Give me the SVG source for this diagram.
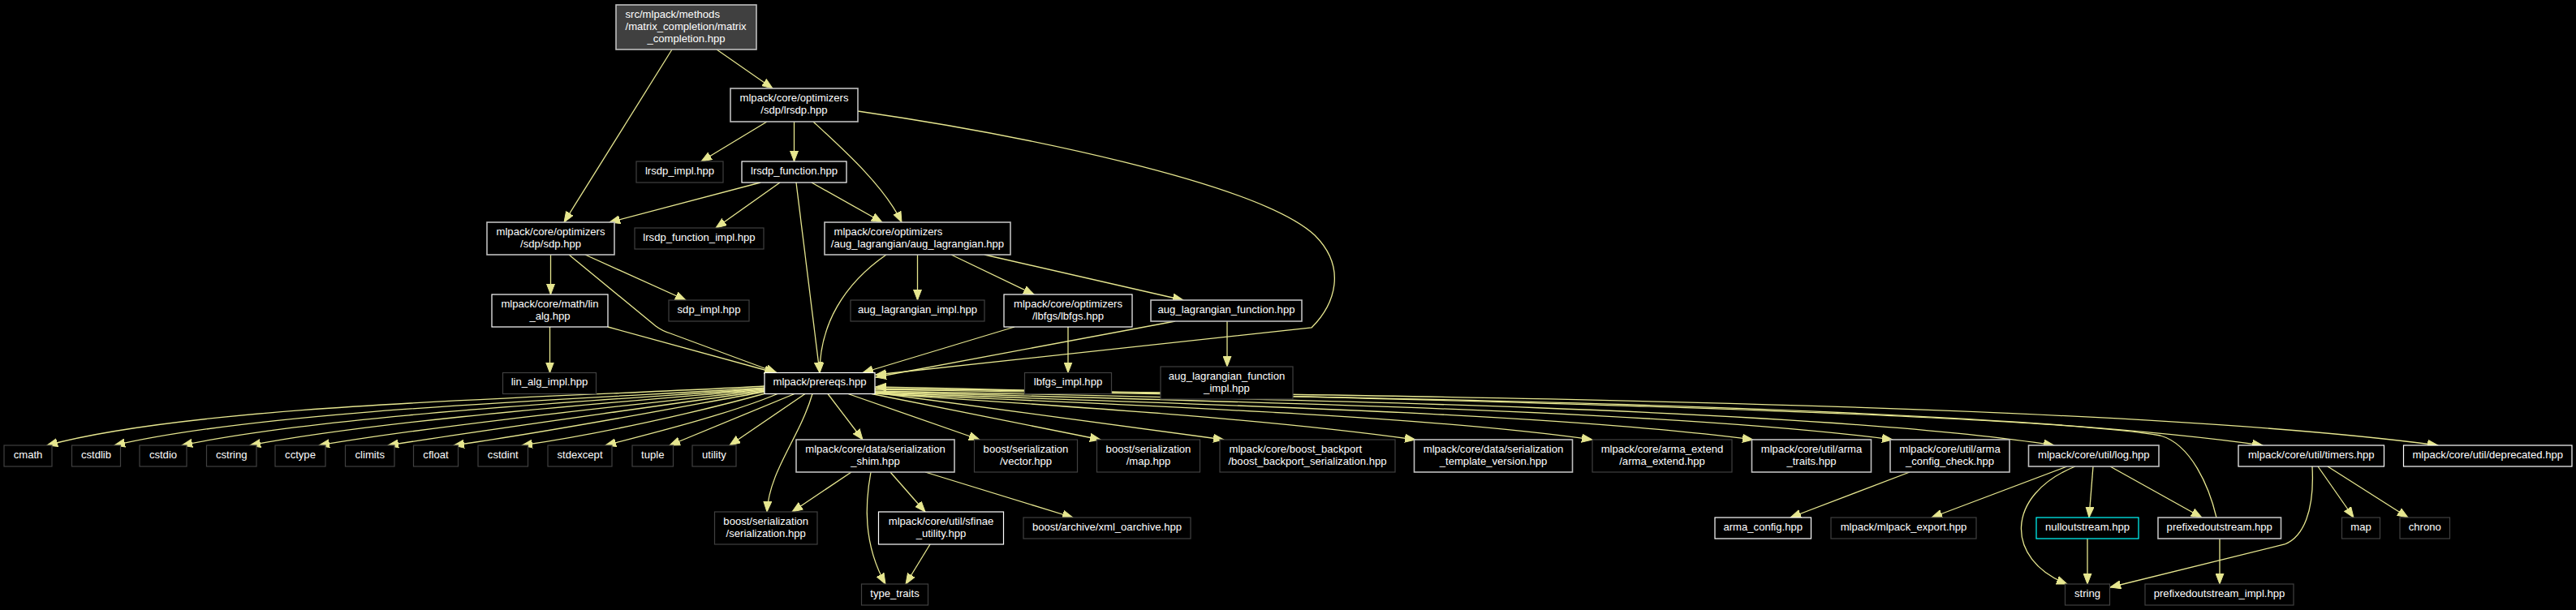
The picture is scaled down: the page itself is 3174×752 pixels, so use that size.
<svg xmlns="http://www.w3.org/2000/svg" width="3174" height="752" viewBox="0 0 3174 752">
<style>
.bg{fill:#000}
.n rect{fill:#000;stroke-width:1.2}
.n .w{stroke:#ffffff}
.n .g{stroke:#bfbfbf;stroke-width:1.6}
.n .d{stroke:#404040}
.n .c{stroke:#00ffff}
.n .r{fill:#404040;stroke:#bfbfbf;stroke-width:1.6}
text{fill:#fff;font-family:"Liberation Sans",Arial,Helvetica,sans-serif;font-size:13.1px;text-anchor:middle}
text.l{text-anchor:start}
#edges path{fill:none;stroke:#e6e68f;stroke-width:1.3;marker-end:url(#a)}
</style>
<defs>
<marker id="a" markerUnits="userSpaceOnUse" markerWidth="14" markerHeight="11" refX="13" refY="5" orient="auto" viewBox="0 0 14 10">
<path d="M0,0 L13,5 L0,10 Z" fill="#e6e68f" stroke="#e6e68f" stroke-width="1"/>
</marker>
</defs>
<rect class="bg" x="0" y="0" width="3174" height="752"/>

<g id="edges">
<path d="M883,61 L952,109"/>
<path d="M828,61 L695,274"/>
<path d="M945,150 L864,199"/>
<path d="M978.5,150 L978.5,199"/>
<path d="M1002,150 C1040,185 1090,230 1111,274"/>
<path d="M1057,137 C1250,165 1550,225 1620,290 C1660,330 1645,375 1616,404 L1079,462"/>
<path d="M937,225 L751,274"/>
<path d="M961,225 L882,281"/>
<path d="M981,225 L1010,459.5"/>
<path d="M1000,225 L1087,274"/>
<path d="M678.5,314 L678.5,363"/>
<path d="M721,314 L845,370"/>
<path d="M701,314 L808,402 Q816,408 826,411 L957,459.5"/>
<path d="M677.5,403 L677.5,459.5"/>
<path d="M749,403 L955,459.5"/>
<path d="M1092,314 C1040,350 1010,400 1010,459.5"/>
<path d="M1130.5,314 L1130.5,370"/>
<path d="M1172,314 L1274,363"/>
<path d="M1213,314 L1458,370"/>
<path d="M1250,403 L1063,459.5"/>
<path d="M1316,403 L1316,459.5"/>
<path d="M1448,396 L1079,465"/>
<path d="M1512,396 L1512,452"/>
<path d="M942,476 C700,490 250,497 58,549"/>
<path d="M942,478 C720,492 330,505 141,549"/>
<path d="M942,479 C740,494 400,512 224,549"/>
<path d="M942,480 C760,496 470,518 308,549"/>
<path d="M942,481 C780,499 540,524 393,549"/>
<path d="M942,482 C800,502 610,528 478,549"/>
<path d="M942,483 C820,505 680,532 559,549"/>
<path d="M943,485 C860,508 740,535 643,549"/>
<path d="M958,485.5 C900,510 800,535 746,549"/>
<path d="M979,485.5 L825,549"/>
<path d="M992,485.5 L899,549"/>
<path d="M1001,485.5 C985,540 948,580 945,631"/>
<path d="M1020,485.5 L1063,542"/>
<path d="M1045,485.5 L1207,542"/>
<path d="M1074,485.5 L1356,542"/>
<path d="M1078,484 L1508,542"/>
<path d="M1078,485 C1300,500 1550,515 1744,542"/>
<path d="M1078,485 C1400,500 1750,512 1962,542"/>
<path d="M1078,484 C1450,498 1900,508 2160,542"/>
<path d="M1078,483 C1500,495 2050,505 2332,542"/>
<path d="M1078,482 C1600,492 2250,505 2531,549"/>
<path d="M1078,480 C1700,490 2450,500 2788,549"/>
<path d="M1078,479 C1700,488 2600,495 3004,549"/>
<path d="M2731,638 C2722,600 2700,548 2662,537 C2500,508 1600,488 1079,477"/>
<path d="M1049,582 L976,631"/>
<path d="M1073,582 C1066,620 1063,670 1091,720"/>
<path d="M1097,582 L1140,631"/>
<path d="M1140,582 L1322,638"/>
<path d="M1146,671 L1116,720"/>
<path d="M2353,582 L2206,638"/>
<path d="M2547,575 L2380,638"/>
<path d="M2557,575 C2470,610 2470,690 2547,720"/>
<path d="M2579,575 L2574,638"/>
<path d="M2600,575 L2713,638"/>
<path d="M2572,664 L2572,720"/>
<path d="M2735,664 L2735,720"/>
<path d="M2849,575 C2852,630 2838,662 2815,671 L2600,724"/>
<path d="M2856,575 L2900,638"/>
<path d="M2868,575 L2967,638"/>
</g>

<g id="node-root" class="n"><rect class="r" x="759" y="6" width="173" height="55"/><text class="l" x="770.5" y="21.8">src/mlpack/methods</text><text class="l" x="770.5" y="36.8">/matrix_completion/matrix</text><text x="845.5" y="51.8">_completion.hpp</text></g>
<g id="node-lrsdp" class="n"><rect class="g" x="900" y="109" width="157" height="41"/><text x="978.5" y="125.4">mlpack/core/optimizers</text><text x="978.5" y="140.4">/sdp/lrsdp.hpp</text></g>
<g id="node-lrsdp-impl" class="n"><rect class="d" x="784" y="199" width="107" height="26"/><text x="837.5" y="214.8">lrsdp_impl.hpp</text></g>
<g id="node-lrsdp-function" class="n"><rect class="w" x="914" y="199" width="129" height="26"/><text x="978.5" y="214.8">lrsdp_function.hpp</text></g>
<g id="node-sdp" class="n"><rect class="g" x="600" y="274" width="157" height="40"/><text x="678.5" y="289.9">mlpack/core/optimizers</text><text x="678.5" y="304.9">/sdp/sdp.hpp</text></g>
<g id="node-lrsdp-function-impl" class="n"><rect class="d" x="782" y="281" width="159" height="26"/><text x="861.5" y="296.8">lrsdp_function_impl.hpp</text></g>
<g id="node-aug-lagrangian" class="n"><rect class="g" x="1016" y="274" width="229" height="40"/><text class="l" x="1027.5" y="289.9">mlpack/core/optimizers</text><text x="1130.5" y="304.9">/aug_lagrangian/aug_lagrangian.hpp</text></g>
<g id="node-lin-alg" class="n"><rect class="w" x="606" y="363" width="143" height="40"/><text x="677.5" y="378.9">mlpack/core/math/lin</text><text x="677.5" y="393.9">_alg.hpp</text></g>
<g id="node-sdp-impl" class="n"><rect class="d" x="824" y="370" width="99" height="26"/><text x="873.5" y="385.8">sdp_impl.hpp</text></g>
<g id="node-aug-lagrangian-impl" class="n"><rect class="d" x="1048" y="370" width="165" height="26"/><text x="1130.5" y="385.8">aug_lagrangian_impl.hpp</text></g>
<g id="node-lbfgs" class="n"><rect class="w" x="1237" y="363" width="158" height="40"/><text x="1316" y="378.9">mlpack/core/optimizers</text><text x="1316" y="393.9">/lbfgs/lbfgs.hpp</text></g>
<g id="node-aug-lagrangian-function" class="n"><rect class="g" x="1418" y="370" width="186" height="26"/><text x="1511" y="385.8">aug_lagrangian_function.hpp</text></g>
<g id="node-lin-alg-impl" class="n"><rect class="d" x="619.5" y="459.5" width="115" height="26"/><text x="677" y="475.3">lin_alg_impl.hpp</text></g>
<g id="node-prereqs" class="n"><rect class="w" x="942" y="459.5" width="136" height="26"/><text x="1010" y="475.3">mlpack/prereqs.hpp</text></g>
<g id="node-lbfgs-impl" class="n"><rect class="d" x="1262.5" y="459.5" width="107" height="26"/><text x="1316" y="475.3">lbfgs_impl.hpp</text></g>
<g id="node-aug-lagrangian-function-impl" class="n"><rect class="d" x="1430" y="452" width="163" height="40"/><text x="1511.5" y="467.9">aug_lagrangian_function</text><text x="1511.5" y="482.9">_impl.hpp</text></g>

<g id="node-cmath" class="n"><rect class="d" x="5" y="549" width="59" height="26"/><text x="34.5" y="564.8">cmath</text></g>
<g id="node-cstdlib" class="n"><rect class="d" x="88.5" y="549" width="60" height="26"/><text x="118.5" y="564.8">cstdlib</text></g>
<g id="node-cstdio" class="n"><rect class="d" x="172" y="549" width="58" height="26"/><text x="201" y="564.8">cstdio</text></g>
<g id="node-cstring" class="n"><rect class="d" x="254.5" y="549" width="61.5" height="26"/><text x="285.25" y="564.8">cstring</text></g>
<g id="node-cctype" class="n"><rect class="d" x="339" y="549" width="62" height="26"/><text x="370" y="564.8">cctype</text></g>
<g id="node-climits" class="n"><rect class="d" x="425.5" y="549" width="60.5" height="26"/><text x="455.75" y="564.8">climits</text></g>
<g id="node-cfloat" class="n"><rect class="d" x="509.5" y="549" width="55" height="26"/><text x="537" y="564.8">cfloat</text></g>
<g id="node-cstdint" class="n"><rect class="d" x="589" y="549" width="61.5" height="26"/><text x="619.75" y="564.8">cstdint</text></g>
<g id="node-stdexcept" class="n"><rect class="d" x="675" y="549" width="79" height="26"/><text x="714.5" y="564.8">stdexcept</text></g>
<g id="node-tuple" class="n"><rect class="d" x="779" y="549" width="50.5" height="26"/><text x="804.25" y="564.8">tuple</text></g>
<g id="node-utility" class="n"><rect class="d" x="853" y="549" width="54" height="26"/><text x="880" y="564.8">utility</text></g>
<g id="node-serialization-shim" class="n"><rect class="g" x="981" y="542" width="195" height="40"/><text x="1078.5" y="557.9">mlpack/core/data/serialization</text><text x="1078.5" y="572.9">_shim.hpp</text></g>
<g id="node-boost-vector" class="n"><rect class="d" x="1200.5" y="542" width="127" height="40"/><text x="1264" y="557.9">boost/serialization</text><text x="1264" y="572.9">/vector.hpp</text></g>
<g id="node-boost-map" class="n"><rect class="d" x="1351.5" y="542" width="127" height="40"/><text x="1415" y="557.9">boost/serialization</text><text x="1415" y="572.9">/map.hpp</text></g>
<g id="node-boost-backport" class="n"><rect class="d" x="1503" y="542" width="216" height="40"/><text class="l" x="1514.5" y="557.9">mlpack/core/boost_backport</text><text x="1611" y="572.9">/boost_backport_serialization.hpp</text></g>
<g id="node-template-version" class="n"><rect class="g" x="1742.5" y="542" width="195" height="40"/><text x="1840" y="557.9">mlpack/core/data/serialization</text><text x="1840" y="572.9">_template_version.hpp</text></g>
<g id="node-arma-extend" class="n"><rect class="d" x="1962" y="542" width="172" height="40"/><text x="2048" y="557.9">mlpack/core/arma_extend</text><text x="2048" y="572.9">/arma_extend.hpp</text></g>
<g id="node-arma-traits" class="n"><rect class="g" x="2158.5" y="542" width="147" height="40"/><text x="2232" y="557.9">mlpack/core/util/arma</text><text x="2232" y="572.9">_traits.hpp</text></g>
<g id="node-arma-config-check" class="n"><rect class="g" x="2329" y="542" width="147" height="40"/><text x="2402.5" y="557.9">mlpack/core/util/arma</text><text x="2402.5" y="572.9">_config_check.hpp</text></g>
<g id="node-log" class="n"><rect class="g" x="2499.5" y="549" width="160.5" height="26"/><text x="2579.75" y="564.8">mlpack/core/util/log.hpp</text></g>
<g id="node-timers" class="n"><rect class="w" x="2758" y="549" width="179.5" height="26"/><text x="2847.75" y="564.8">mlpack/core/util/timers.hpp</text></g>
<g id="node-deprecated" class="n"><rect class="w" x="2961.5" y="549" width="207.5" height="26"/><text x="3065.25" y="564.8">mlpack/core/util/deprecated.hpp</text></g>

<g id="node-boost-serialization" class="n"><rect class="d" x="880.5" y="631" width="126.5" height="40"/><text x="943.75" y="646.9">boost/serialization</text><text x="943.75" y="661.9">/serialization.hpp</text></g>
<g id="node-sfinae-utility" class="n"><rect class="w" x="1082.5" y="631" width="154" height="40"/><text x="1159.5" y="646.9">mlpack/core/util/sfinae</text><text x="1159.5" y="661.9">_utility.hpp</text></g>
<g id="node-xml-oarchive" class="n"><rect class="d" x="1261" y="638" width="206" height="26"/><text x="1364" y="653.8">boost/archive/xml_oarchive.hpp</text></g>
<g id="node-arma-config" class="n"><rect class="w" x="2113" y="638" width="118.5" height="26"/><text x="2172.25" y="653.8">arma_config.hpp</text></g>
<g id="node-mlpack-export" class="n"><rect class="d" x="2256" y="638" width="179" height="26"/><text x="2345.5" y="653.8">mlpack/mlpack_export.hpp</text></g>
<g id="node-nulloutstream" class="n"><rect class="c" x="2509" y="638" width="126" height="26"/><text x="2572" y="653.8">nulloutstream.hpp</text></g>
<g id="node-prefixedoutstream" class="n"><rect class="g" x="2659" y="638" width="151.5" height="26"/><text x="2734.75" y="653.8">prefixedoutstream.hpp</text></g>
<g id="node-map" class="n"><rect class="d" x="2885.5" y="638" width="47" height="26"/><text x="2909" y="653.8">map</text></g>
<g id="node-chrono" class="n"><rect class="d" x="2957" y="638" width="61.5" height="26"/><text x="2987.75" y="653.8">chrono</text></g>

<g id="node-type-traits" class="n"><rect class="d" x="1061.5" y="720" width="82" height="26"/><text x="1102.5" y="735.8">type_traits</text></g>
<g id="node-string" class="n"><rect class="d" x="2544.5" y="720" width="55" height="26"/><text x="2572" y="735.8">string</text></g>
<g id="node-prefixedoutstream-impl" class="n"><rect class="d" x="2643" y="720" width="183" height="26"/><text x="2734.5" y="735.8">prefixedoutstream_impl.hpp</text></g>
</svg>
